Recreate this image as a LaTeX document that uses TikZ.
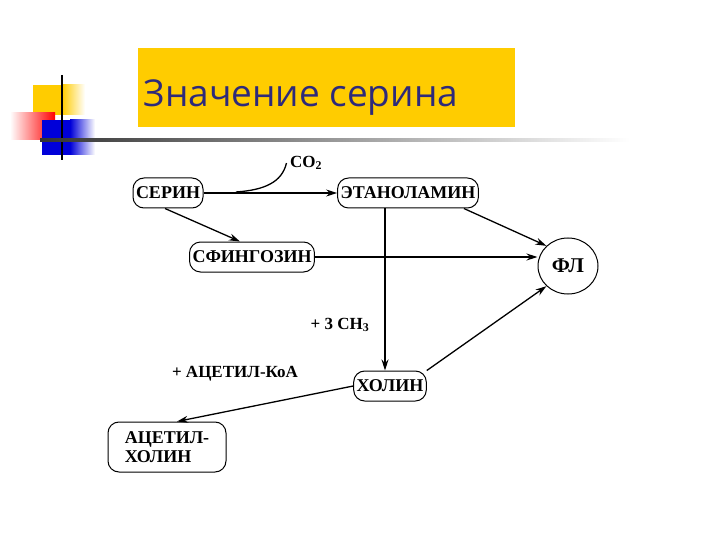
\documentclass[tikz,border=0pt]{standalone}
\usepackage{fontspec}
\setmainfont{Liberation Serif}
\newfontfamily\titlefont{Open Sans}
\usetikzlibrary{arrows.meta,shapes.geometric}
\definecolor{ttl}{HTML}{2E2A7A}
\definecolor{ylw}{HTML}{FFCC00}
\tikzset{
  box/.style={draw, line width=1pt, rounded corners=11pt, minimum height=30pt, inner xsep=3pt, font=\bfseries\fontsize{18}{19}\selectfont},
  lbl/.style={font=\bfseries\fontsize{17}{18}\selectfont},
  arr/.style={line width=1.3pt, -{Stealth[length=11pt,width=7pt]}}
}
\begin{document}
\begin{tikzpicture}[x=1pt,y=-1pt]
\useasboundingbox (0,0) rectangle (720,540);
\fill[white] (0,0) rectangle (720,540);
% decoration
\fill[ylw] (33,85) rectangle (62,115);
\shade[left color=ylw,right color=white] (62,85) rectangle (85,115);
\shade[left color=white,right color=red] (10,113) rectangle (55,140);
\fill[blue!85!black] (42,120) rectangle (70,155);
\shade[left color=blue!85!black,right color=white] (70,120) rectangle (95,155);
\draw[line width=2pt] (62,75) -- (62,160);
\shade[left color=black!80,right color=white] (40,139) rectangle (630,142);
% title
\fill[ylw] (138,48) rectangle (515,127);
\node[anchor=west, text=ttl, font=\titlefont\fontsize{37}{40}\selectfont] (title) at (140,98) {Значение серина};
% nodes
\node[box] (ser) at (168,193) {СЕРИН};
\node[box] (eta) at (408,193) {ЭТАНОЛАМИН};
\node[box] (sfi) at (252,257) {СФИНГОЗИН};
\node[box] (hol) at (390,386) {ХОЛИН};
\node[box, align=left, minimum width=118pt, minimum height=50pt, inner xsep=6pt] (ach) at (167,447) {АЦЕТИЛ-\\ХОЛИН};
\node[draw, line width=1pt, ellipse, minimum width=60pt, minimum height=56pt, font=\bfseries\fontsize{21}{22}\selectfont] (fl) at (568,266) {ФЛ};
\node[lbl] (co2) at (306,163) {CO$_\mathbf{2}$};
\node[lbl] (ch3) at (340,325) {+ 3 CH$_\mathbf{3}$};
\node[lbl] (acoa) at (235,374) {+ АЦЕТИЛ-КоА};
% arrows
\draw[arr] (ser.east) -- (eta.west);
\coordinate (cs) at (236,192);
\draw[line width=1.3pt] (cs) .. controls (265,190) and (282,182) .. (co2.west);
\draw[arr] ([xshift=-3pt]ser.south) -- ([xshift=-12pt]sfi.north);
\draw[arr] (sfi.east) -- (fl.west |- sfi.east);
\draw[arr] ([xshift=-23pt]eta.south) -- ([xshift=-5pt]hol.north);
\draw[arr] ([xshift=-15pt]eta.south east) -- (fl.north west);
\draw[arr] (hol.north east) -- (fl.south west);
\draw[arr] (hol.west) -- ([xshift=10pt]ach.north);
\end{tikzpicture}
\end{document}
